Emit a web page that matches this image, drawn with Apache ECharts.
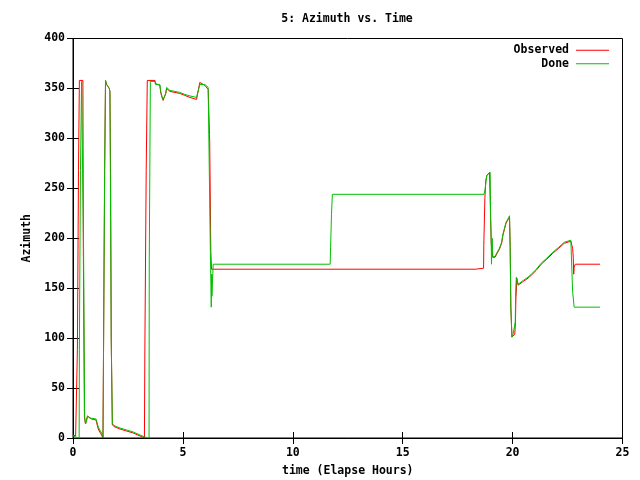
<!DOCTYPE html>
<html><head><meta charset="utf-8">
<script src="https://cdn.jsdelivr.net/npm/echarts@6/dist/echarts.min.js"></script>
<style>html,body{margin:0;padding:0;background:#fff}#c{width:640px;height:480px}</style>
</head><body><div id="c"></div>
<script>
var titleText = "5: Azimuth vs. Time";
var xTicks = [0, 5, 10, 15, 20, 25];
var yTicks = [0, 50, 100, 150, 200, 250, 300, 350, 400];

var obsTime = [0,0.12,0.17,0.19,0.2,0.25,0.29,0.45,0.47,0.52,0.57,0.62,0.66,0.72,0.85,1.05,1.1,1.15,1.22,1.3,1.36,1.38,1.39,1.44,1.48,1.53,1.6,1.65,1.68,1.71,1.74,1.79,1.91,2.14,2.44,2.74,3.05,3.25,3.26,3.27,3.33,3.38,3.73,3.75,3.95,4.0,4.05,4.1,4.18,4.22,4.26,4.41,4.64,4.86,5.09,5.32,5.62,5.7,5.77,5.85,6.0,6.15,6.2,6.21,6.22,6.26,6.27,6.3,18.3,18.32,18.68,18.69,18.74,18.78,18.84,18.95,18.98,19.0,19.03,19.07,19.1,19.2,19.3,19.4,19.5,19.56,19.63,19.7,19.78,19.86,19.89,19.92,19.97,20.02,20.1,20.13,20.15,20.17,20.19,20.25,20.32,20.5,20.7,20.85,21.08,21.3,21.55,21.83,22.1,22.35,22.65,22.71,22.73,22.76,22.78,22.8,22.85,23.98];
var obsAz = [3,2,0,0,89,268,358,358,190,21,14,18,22,21,19,18,13,9,6,3,0,1,91,268,358,354,352,350,347,266,98,13,11,9,7,5,2,0,0,89,268,358,358,355,353,345,341,338,338,345,350,347,346,345,343,341,339,341,356,355,353,349,349,304,296,208,186,169,169,170,170,193,241,258,263,266,266,221,194,194,181,181,185,189,195,203,209,215,218,221,191,131,101,103,104,116,141,147,160,153,154,157,160,163,168,174,179,185,190,195,197,199,190,181,164,171,174,174];

var doneTime = [0,0.12,0.2,0.28,0.29,0.34,0.39,0.47,0.48,0.53,0.57,0.62,0.66,0.72,0.76,0.85,1.05,1.1,1.15,1.22,1.3,1.37,1.38,1.39,1.44,1.48,1.53,1.6,1.65,1.68,1.7,1.74,1.79,1.91,2.14,2.44,2.74,3.05,3.27,3.46,3.47,3.52,3.73,3.75,3.95,4.0,4.05,4.1,4.18,4.22,4.26,4.41,4.64,4.86,5.09,5.32,5.62,5.7,5.77,5.85,6.0,6.15,6.2,6.25,6.29,6.31,6.32,6.36,6.38,11.7,11.72,11.76,11.8,18.7,18.75,18.82,18.9,18.98,19.0,19.03,19.04,19.07,19.1,19.2,19.3,19.4,19.5,19.56,19.63,19.7,19.78,19.86,19.89,19.92,19.97,20.02,20.09,20.12,20.14,20.17,20.2,20.25,20.32,20.5,20.7,20.85,21.08,21.3,21.55,21.83,22.1,22.35,22.65,22.71,22.73,22.8,23.98];
var doneAz = [2,1,0,0,89,268,357,357,190,21,14,18,22,22,20,20,19,15,11,8,5,1,1,91,268,358,354,352,350,347,266,98,14,12,10,8,6,3,1,0,179,357,357,354,354,346,342,339,338,345,351,348,347,346,344,342.5,341,342,354,356,354,351,351,186,131,164,142,165,174,174,191,224,244,244,249,263,265,266,221,194,174,200,181,182,186,190,196,204,210,216,219,222.5,191,131,101,103.5,104,116,147,161,159,154,155,158,161,164,169,175,180,186,191,196,198,198,147,131,131];

function pairs(t, v){ var o=[]; for(var i=0;i<t.length;i++) o.push([t[i], v[i]]); return o; }

var font = 'DejaVu Sans Mono';
var txt = {fontFamily: font, fontWeight: 'bold', fontSize: 11.5, color: '#000'};
var chart = echarts.init(document.getElementById('c'), null, {renderer: 'canvas'});
var axisBase = {
  min: 0, axisLine: {show: true, lineStyle: {color: '#000', width: 1}},
  axisTick: {show: true, inside: true, length: 6, lineStyle: {color: '#000'}},
  splitLine: {show: false}, minorTick: {show: false}
};
chart.setOption({
  animation: false,
  backgroundColor: '#fff',
  title: {text: titleText, left: 342, textAlign: 'center', top: 8, textStyle: txt},
  legend: {
    orient: 'vertical', right: 26, top: 38.5, align: 'right', itemGap: 0,
    itemWidth: 33, itemHeight: 1, icon: 'rect',
    textStyle: Object.assign({}, txt, {lineHeight: 13.5, padding: [0, 2, 0, 0]}),
    data: ['Observed', 'Done']
  },
  grid: {left: 73, right: 17.5, top: 38.5, bottom: 42, show: true, borderColor: '#000', borderWidth: 1,
    containLabel: false, outerBoundsMode: 'none'},
  xAxis: [
    Object.assign({}, axisBase, {type: 'value', max: 25, interval: 5, position: 'bottom',
      name: 'time (Elapse Hours)', nameLocation: 'middle', nameGap: 27, nameTextStyle: txt,
      axisLabel: Object.assign({}, txt, {margin: 9})}),
    Object.assign({}, axisBase, {type: 'value', max: 25, interval: 5, position: 'top', axisLabel: {show: false}})
  ],
  yAxis: [
    Object.assign({}, axisBase, {type: 'value', max: 400, interval: 50, position: 'left',
      name: 'Azimuth', nameLocation: 'middle', nameGap: 39, nameRotate: 90, nameTextStyle: txt,
      axisLabel: Object.assign({}, txt, {margin: 8})}),
    Object.assign({}, axisBase, {type: 'value', max: 400, interval: 50, position: 'right', axisLabel: {show: false}})
  ],
  series: [
    {name: 'Observed', type: 'line', data: pairs(obsTime, obsAz), showSymbol: false, symbol: 'none',
     lineStyle: {color: '#ff0000', width: 1}, itemStyle: {color: '#ff0000'}, z: 2},
    {name: 'Done', type: 'line', data: pairs(doneTime, doneAz), showSymbol: false, symbol: 'none',
     lineStyle: {color: '#00c000', width: 1}, itemStyle: {color: '#00c000'}, z: 3}
  ]
});
</script></body></html>
